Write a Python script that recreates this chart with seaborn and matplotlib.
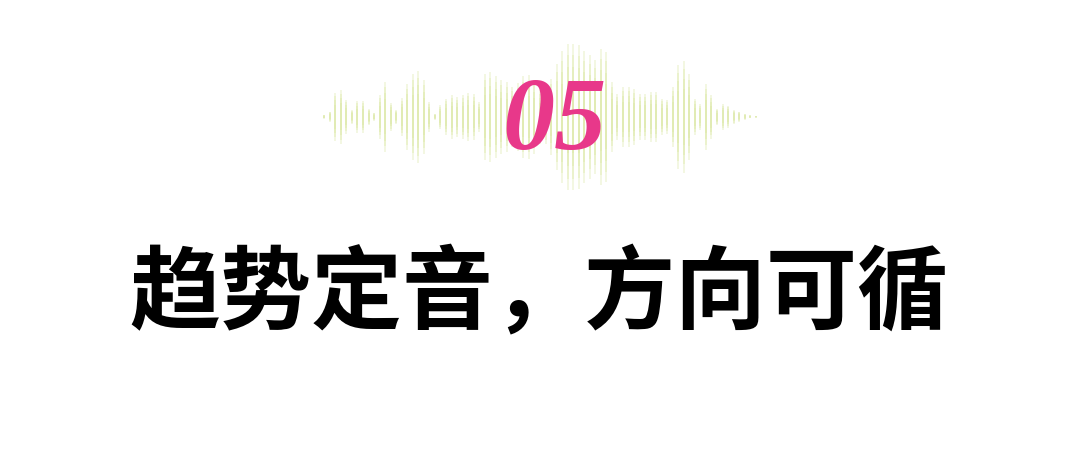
import numpy as np
import pandas as pd
import matplotlib
matplotlib.use("Agg")
import matplotlib.pyplot as plt
import seaborn as sns

# half-heights of the sound-wave bars (px), left to right
wave_half = [2, 5, 24, 27, 17, 7, 16, 16, 8, 4, 22, 35, 14, 7, 19, 33, 43, 46, 37, 15,
             3, 12, 18, 22, 20, 22, 24, 23, 15, 43, 45, 41, 37, 35, 30, 34, 41,
             42, 37, 27, 27, 38, 53, 66, 73, 73, 72, 66, 62, 57, 68, 65, 35, 23, 30, 30, 28,
             23, 23, 25, 25, 18, 17, 30, 52, 56, 43, 18, 13, 33, 22, 8, 13, 11, 7, 5, 3, 1.5, 1]
number_label = "05"
title_text = "趋势定音，方向可循"

W, H = 1080, 451
wave_x0, wave_step, wave_y = 324.3, 5.531, 116.7

sns.set_theme(style="white")
plt.rcParams['font.family'] = ['Noto Sans CJK SC', 'DejaVu Sans']

fig = plt.figure(figsize=(W / 100, H / 100), dpi=100)
ax = fig.add_axes([0, 0, 1, 1])

# build segments: several overlapping layers so the bar tips fade out
rows = []
fracs = [1.0, 0.85, 0.68, 0.5]
for j, f in enumerate(fracs):
    for k, h in enumerate(wave_half):
        x = wave_x0 + k * wave_step
        for y in (wave_y - h * f, wave_y + h * f):
            rows.append({'layer': j, 'bar': k, 'x': x, 'y': y})
df = pd.DataFrame(rows)

for j in range(len(fracs)):
    sns.lineplot(data=df[df.layer == j], x='x', y='y', units='bar', estimator=None,
                 sort=False, color='#d8e69c', alpha=0.32, linewidth=1.3,
                 solid_capstyle='butt', ax=ax, legend=False)
ax.set_xlim(0, W)
ax.set_ylim(H, 0)
ax.axis('off')

ax.text(555, 124, number_label, family='Liberation Serif', fontweight='bold',
        fontstyle='italic', fontsize=75, color='#e8388a', ha='center', va='center')

ax.text(539, 296, title_text, fontweight='heavy', fontsize=65.5, color='black',
        ha='center', va='center')

fig.savefig('out.png', dpi=100, facecolor='white')
